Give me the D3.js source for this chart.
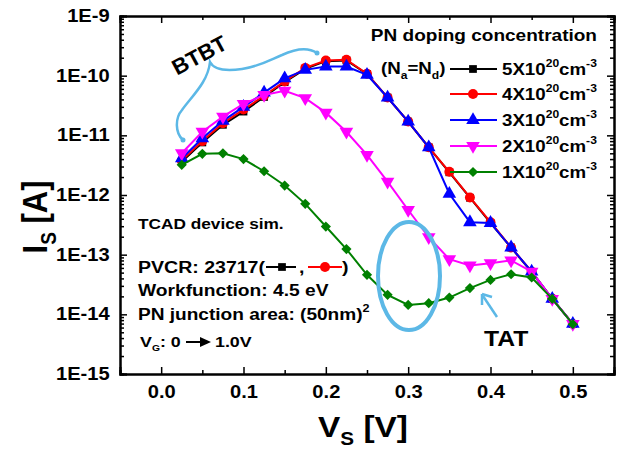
<!DOCTYPE html>
<html>
<head>
<meta charset="utf-8">
<script src="https://cdn.jsdelivr.net/npm/d3@7"></script>
<style>
  body { margin: 0; background: #fff; }
  text { font-family: "Liberation Sans", Arial, sans-serif; font-weight: bold; fill: #000; }
</style>
</head>
<body>
<div id="chart"></div>
<script>
// source voltage, V
var vs = [0.025, 0.05, 0.075, 0.1, 0.125, 0.15, 0.175, 0.2, 0.225, 0.25,
          0.275, 0.3, 0.325, 0.35, 0.375, 0.4, 0.425, 0.45, 0.475, 0.5];

// source current, A, one per doping level
var is5 = [3.6e-12, 7.6e-12, 1.5e-11, 2.5e-11, 4.4e-11, 7.8e-11, 1.3e-10, 1.75e-10, 1.8e-10, 1.07e-10,
           4.3e-11, 1.7e-11, 6.3e-12, 2.4e-12, 9.0e-13, 3.4e-13, 1.32e-13, 5.1e-14, 1.82e-14, 6.9e-15];
var is4 = [3.8e-12, 8.0e-12, 1.6e-11, 2.7e-11, 4.6e-11, 8.0e-11, 1.35e-10, 1.8e-10, 1.85e-10, 1.08e-10,
           4.3e-11, 1.7e-11, 6.3e-12, 2.45e-12, 9.1e-13, 3.5e-13, 1.32e-13, 5.2e-14, 1.82e-14, 6.9e-15];
var is3 = [4.1e-12, 8.9e-12, 1.75e-11, 3.0e-11, 5.2e-11, 9.0e-11, 1.25e-10, 1.42e-10, 1.42e-10, 1.03e-10,
           4.3e-11, 1.7e-11, 6.3e-12, 1.05e-12, 3.5e-13, 3.4e-13, 1.32e-13, 5.2e-14, 1.82e-14, 6.9e-15];
var is2 = [5.0e-12, 1.15e-11, 2.06e-11, 3.35e-11, 4.75e-11, 5.6e-11, 4.2e-11, 2.4e-11, 1.15e-11, 4.7e-12,
           1.68e-12, 5.6e-13, 1.96e-13, 8.4e-14, 6.6e-14, 7.2e-14, 8.0e-14, 5.2e-14, 1.82e-14, 6.9e-15];
var is1 = [3.2e-12, 4.9e-12, 5.0e-12, 4.0e-12, 2.5e-12, 1.44e-12, 7.1e-13, 2.96e-13, 1.24e-13, 4.6e-14,
           2.12e-14, 1.44e-14, 1.54e-14, 1.91e-14, 2.75e-14, 3.78e-14, 4.7e-14, 4.14e-14, 1.82e-14, 6.85e-15];

var seriesNames = ["5", "4", "3", "2", "1"];
var seriesValues = [is5, is4, is3, is2, is1];
var seriesColors = ["#000000", "#ff0000", "#0000ff", "#ff00ff", "#008000"];
var seriesMarks = ["square", "circle", "up", "down", "diamond"];

var xTicks = [0.0, 0.1, 0.2, 0.3, 0.4, 0.5];
var xMinor = [-0.05, 0.05, 0.15, 0.25, 0.35, 0.45, 0.55];
var yExp = [-15, -14, -13, -12, -11, -10, -9];

var W = 622, H = 453;
var L = 120, R = 614, T = 16, B = 374;
var SX = 1.15;   // the original text is drawn a bit wide
var annColor = "#5cb8e6";

var svg = d3.select("#chart").append("svg")
    .attr("width", W).attr("height", H);

var x = d3.scaleLinear().domain([-0.05, 0.55]).range([L, R]);
var y = d3.scaleLog().domain([1e-15, 1e-9]).range([B, T]);

// log minor ticks
var yMinor = [];
yExp.slice(0, -1).forEach(function(e) {
  for (var k = 2; k <= 9; k++) yMinor.push(k * Math.pow(10, e));
});
var yMajor = yExp.map(function(e) { return Math.pow(10, e); });

// text placed at (px,py), widened by SX
function label(px, py, size, anchor, sx) {
  return svg.append("text")
    .attr("transform", "translate(" + px + "," + py + ") scale(" + (sx || SX) + ",1)")
    .attr("text-anchor", anchor || "start")
    .style("font-size", size + "px");
}

// ---- axes ----
svg.append("g").attr("transform", "translate(0," + B + ")")
    .call(d3.axisBottom(x).tickValues(xTicks).tickSize(-7).tickPadding(12)
    .tickFormat(d3.format(".1f")));
svg.append("g").attr("transform", "translate(0," + B + ")")
    .call(d3.axisBottom(x).tickValues(xMinor).tickSize(-4).tickFormat(""));
svg.append("g").attr("transform", "translate(0," + T + ")")
    .call(d3.axisTop(x).tickValues(xTicks).tickSize(-7).tickFormat(""));
svg.append("g").attr("transform", "translate(0," + T + ")")
    .call(d3.axisTop(x).tickValues(xMinor).tickSize(-4).tickFormat(""));

svg.append("g").attr("transform", "translate(" + L + ",0)")
    .call(d3.axisLeft(y).tickValues(yMajor).tickSize(-7).tickPadding(9)
    .tickFormat(function(d) { return "1E" + Math.round(Math.log10(d)); }));
svg.append("g").attr("transform", "translate(" + L + ",0)")
    .call(d3.axisLeft(y).tickValues(yMinor).tickSize(-4).tickFormat(""));
svg.append("g").attr("transform", "translate(" + R + ",0)")
    .call(d3.axisRight(y).tickValues(yMajor).tickSize(-7).tickFormat(""));
svg.append("g").attr("transform", "translate(" + R + ",0)")
    .call(d3.axisRight(y).tickValues(yMinor).tickSize(-4).tickFormat(""));

svg.selectAll(".domain").attr("stroke-width", 2);
svg.selectAll(".tick line").attr("stroke-width", 1.5);
svg.selectAll(".tick text")
    .attr("transform", "scale(" + SX + ",1)")
    .style("font-size", "17.5px")
    .style("font-family", "'Liberation Sans', Arial, sans-serif").style("font-weight", "bold");

// axis titles
var yt = svg.append("text")
    .attr("transform", "translate(47,217) scale(" + SX + ",1) rotate(-90)")
    .attr("text-anchor", "middle")
    .style("font-size", "31px");
yt.append("tspan").text("I");
yt.append("tspan").text("S").style("font-size", "19px").attr("dy", 8);
yt.append("tspan").text(" [A]").attr("dy", -8);

var xt = label(363, 437, 29, "middle");
xt.append("tspan").text("V");
xt.append("tspan").text("S").style("font-size", "18px").attr("dy", 8);
xt.append("tspan").text(" [V]").attr("dy", -8);

// ---- markers ----
function marker(sel, kind, color) {
  var sym, size = 64, rot = 0;
  if (kind === "square") { sym = d3.symbolSquare; size = 60; }
  if (kind === "circle") { sym = d3.symbolCircle; size = 78; }
  if (kind === "up") { sym = d3.symbolTriangle; size = 80; }
  if (kind === "down") { sym = d3.symbolTriangle; size = 80; rot = 180; }
  if (kind === "diamond") { sym = d3.symbolSquare; size = 52; rot = 45; }
  sel.append("path")
    .attr("d", d3.symbol().type(sym).size(size)())
    .attr("transform", function(d) {
      return "translate(" + d[0] + "," + d[1] + ") rotate(" + rot + ")";
    })
    .attr("fill", color);
}

var line = d3.line();

seriesValues.forEach(function(vals, si) {
  var pts = vs.map(function(v, i) { return [x(v), y(vals[i])]; });
  var g = svg.append("g");
  g.append("path").attr("d", line(pts))
    .attr("fill", "none").attr("stroke", seriesColors[si]).attr("stroke-width", 2);
  var m = g.selectAll("g").data(pts).enter().append("g");
  marker(m, seriesMarks[si], seriesColors[si]);
});

// ---- legend ----
label(597, 41, 17, "end", 1.12).text("PN doping concentration");
var na = label(381, 74, 17, "start", 1.1);
na.append("tspan").text("(N");
na.append("tspan").text("a").style("font-size", "11px").attr("dy", 5);
na.append("tspan").text("=N").attr("dy", -5);
na.append("tspan").text("d").style("font-size", "11px").attr("dy", 5);
na.append("tspan").text(")").attr("dy", -5);

var legY = [69, 94, 120, 146, 172];
seriesNames.forEach(function(n, i) {
  var ly = legY[i];
  svg.append("line").attr("x1", 450).attr("x2", 497).attr("y1", ly).attr("y2", ly)
    .attr("stroke", seriesColors[i]).attr("stroke-width", 2);
  var m = svg.append("g").datum([473, ly]);
  marker(m, seriesMarks[i], seriesColors[i]);
  var t = label(502, ly + 6, 17, "start", 1.1);
  t.append("tspan").text(n + "X10");
  t.append("tspan").text("20").style("font-size", "11px").attr("dy", -8);
  t.append("tspan").text("cm").attr("dy", 8);
  t.append("tspan").text("-3").style("font-size", "11px").attr("dy", -8);
});

// ---- annotations ----
svg.append("text").attr("transform", "translate(203,62) rotate(-28)")
    .attr("text-anchor", "middle").style("font-size", "22px").text("BTBT");

svg.append("path")
    .attr("d", "M183,140 C175,133 175,118 182,110 C192,96 208,82 210,62 C214,70 228,71 242,69 C258,67 270,60 282,55 C295,49 308,47 317,53")
    .attr("fill", "none").attr("stroke", annColor).attr("stroke-width", 2.5);
svg.append("circle").attr("cx", 183).attr("cy", 140).attr("r", 2.5).attr("fill", annColor);
svg.append("circle").attr("cx", 317).attr("cy", 53).attr("r", 2.5).attr("fill", annColor);

svg.append("ellipse").attr("cx", 409).attr("cy", 276).attr("rx", 31).attr("ry", 54)
    .attr("fill", "none").attr("stroke", annColor).attr("stroke-width", 4);

svg.append("line").attr("x1", 497).attr("y1", 317).attr("x2", 483).attr("y2", 296)
    .attr("stroke", annColor).attr("stroke-width", 2.5);
svg.append("path").attr("d", "M482,294 L482,305 M482,294 L492,297")
    .attr("fill", "none").attr("stroke", annColor).attr("stroke-width", 2.5);

label(484, 346, 21.5, "start").text("TAT");

label(138, 229, 15, "start").text("TCAD device sim.");

label(138, 273, 17, "start").text("PVCR: 23717(");
svg.append("line").attr("x1", 266).attr("x2", 296).attr("y1", 267).attr("y2", 267)
    .attr("stroke", "#000").attr("stroke-width", 2);
marker(svg.append("g").datum([282, 267]), "square", "#000");
label(299, 273, 17, "start").text(",");
svg.append("line").attr("x1", 308).attr("x2", 342).attr("y1", 267).attr("y2", 267)
    .attr("stroke", "#ff0000").attr("stroke-width", 2);
marker(svg.append("g").datum([325, 267]), "circle", "#ff0000");
label(342, 273, 17, "start").text(")");

label(138, 296, 16.7, "start").text("Workfunction: 4.5 eV");

var pn = label(138, 320, 16.6, "start");
pn.append("tspan").text("PN junction area: (50nm)");
pn.append("tspan").text("2").style("font-size", "11px").attr("dy", -8);

var vg = label(140, 347, 15.5, "start");
vg.append("tspan").text("V");
vg.append("tspan").text("G").style("font-size", "9px").attr("dy", 4);
vg.append("tspan").text(": 0").attr("dy", -4);
svg.append("line").attr("x1", 186).attr("x2", 208).attr("y1", 342).attr("y2", 342)
    .attr("stroke", "#000").attr("stroke-width", 2);
svg.append("path").attr("d", "M211,342 L200,337 L200,347 Z").attr("fill", "#000");
label(215, 347, 15.5, "start").text("1.0V");
</script>
</body>
</html>
